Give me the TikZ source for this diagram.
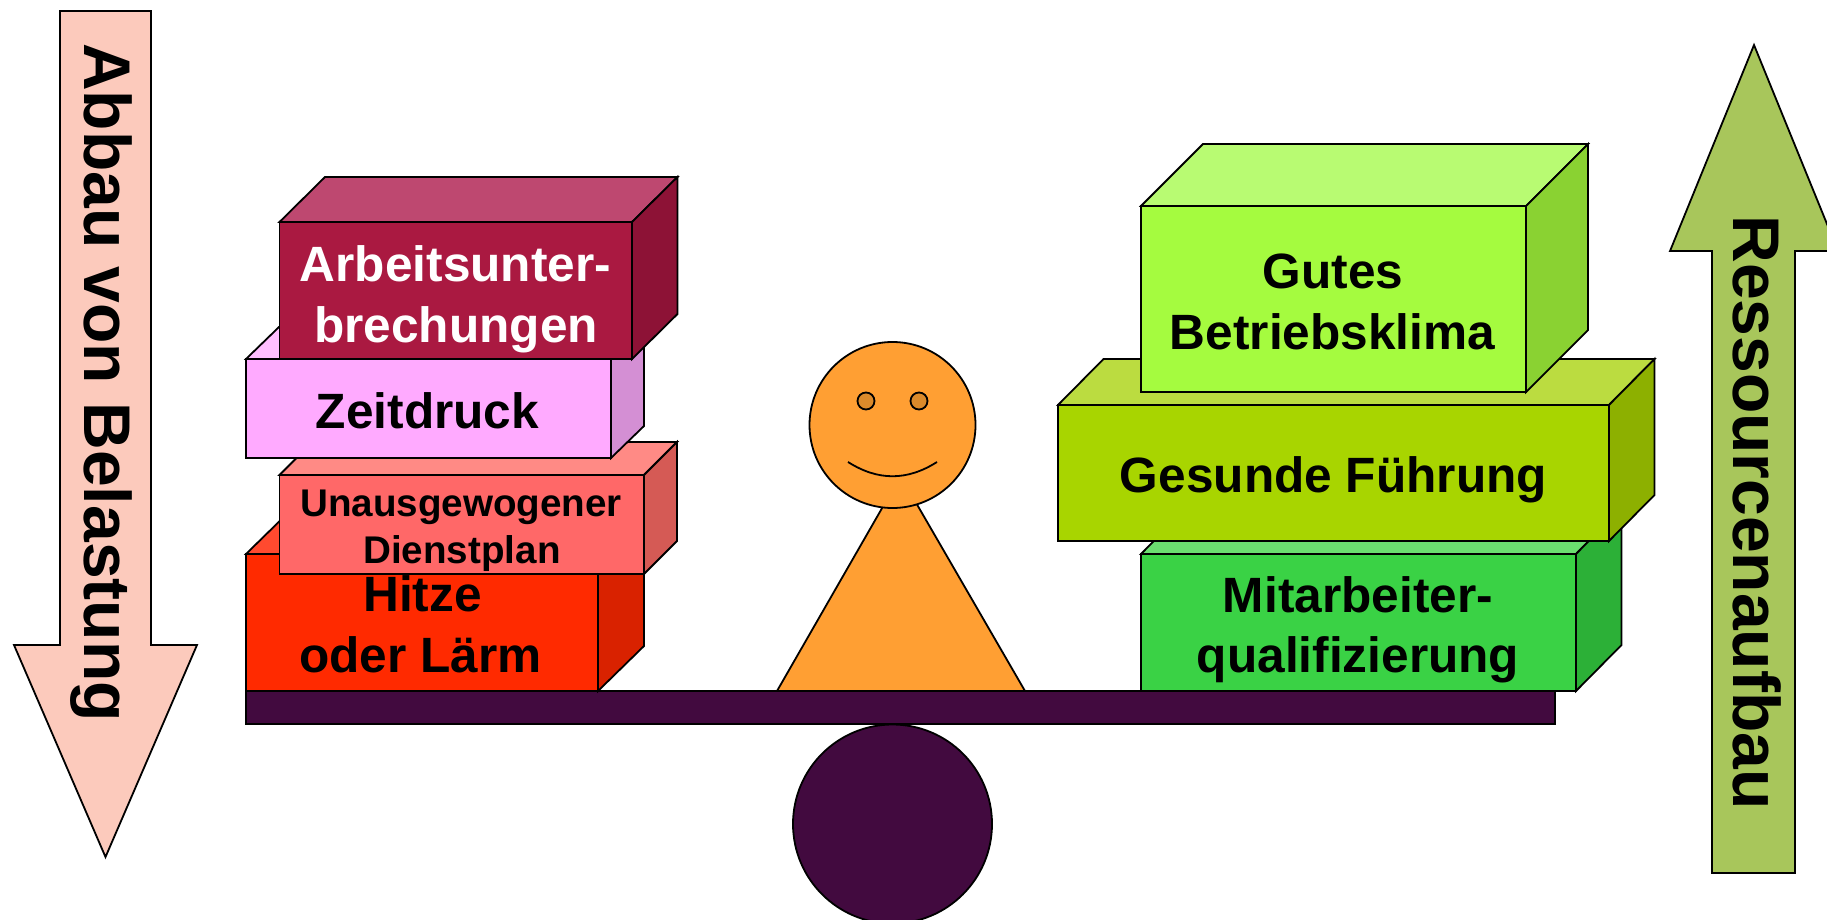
\documentclass[tikz,border=0pt]{standalone}
\usepackage{fontspec}
\setmainfont{Liberation Sans}[BoldFont={Liberation Sans Bold}]
\definecolor{arbF}{HTML}{AA1941}\definecolor{arbT}{HTML}{BE4870}\definecolor{arbS}{HTML}{8D1236}
\definecolor{zeiF}{HTML}{FFAAFF}\definecolor{zeiT}{HTML}{FFBFFF}\definecolor{zeiS}{HTML}{D48FD4}
\definecolor{unaF}{HTML}{FF6868}\definecolor{unaT}{HTML}{FF8A85}\definecolor{unaS}{HTML}{D55A55}
\definecolor{hitF}{HTML}{FF2A00}\definecolor{hitT}{HTML}{FF4A2F}\definecolor{hitS}{HTML}{D92200}
\definecolor{gutF}{HTML}{A5FB3F}\definecolor{gutT}{HTML}{B8FB72}\definecolor{gutS}{HTML}{8AD232}
\definecolor{gesF}{HTML}{A8D500}\definecolor{gesT}{HTML}{BBDC40}\definecolor{gesS}{HTML}{8DB000}
\definecolor{mitF}{HTML}{3AD245}\definecolor{mitT}{HTML}{6BDE70}\definecolor{mitS}{HTML}{2CB037}
\definecolor{downarrow}{HTML}{FCCABC}\definecolor{uparrow}{HTML}{A8C65B}
\definecolor{figure}{HTML}{FF9F33}\definecolor{eye}{HTML}{DB8A2B}\definecolor{beam}{HTML}{420A3F}
\tikzset{
  outline/.style={draw=black,line width=1.8pt,line join=miter},
  boxlabel/.style={inner sep=0pt,anchor=base,font=\bfseries\fontsize{49.6}{60}\selectfont},
  smalllabel/.style={boxlabel,font=\bfseries\fontsize{38.6}{48}\selectfont},
  arrowlabel/.style={inner sep=0pt,anchor=base,rotate=-90,font=\bfseries\fontsize{#1}{70}\selectfont}
}
\newcommand\cuboid[7]{%
  \filldraw[outline,fill=#7T] (#1,#2) -- ++(#5,-#6) -- ++(#3-#1,0) -- (#3+#5,#2-#6) -- (#3,#2) -- cycle;
  \filldraw[outline,fill=#7S] (#3,#2) -- (#3+#5,#2-#6) -- (#3+#5,#4-#6) -- (#3,#4) -- cycle;
  \filldraw[outline,fill=#7F] (#1,#2) rectangle (#3,#4);
}
\begin{document}
\begin{tikzpicture}[x=1pt,y=-1pt]
\useasboundingbox (0,0) rectangle (1827,920);
\clip (0,0) rectangle (1827,920);
% left arrow
\filldraw[outline,fill=downarrow] (60,11) -- (151,11) -- (151,645) -- (197,645) -- (105.5,857) -- (14,645) -- (60,645) -- cycle;
\node[arrowlabel=66] (abbau) at (84,382.5) {Abbau von Belastung};
% right arrow
\filldraw[outline,fill=uparrow] (1712,873) -- (1795,873) -- (1795,251) -- (1838,251) -- (1754,45) -- (1670,251) -- (1712,251) -- cycle;
\node[arrowlabel=66] (ressourcen) at (1733,512.5) {Ressourcenaufbau};
% figure
\filldraw[outline,fill=figure] (777,691) -- (1025,691) -- (900.5,476) -- cycle;
\filldraw[outline,fill=figure] (892.5,425) circle[radius=83];
\filldraw[outline,fill=eye] (866,401) circle[radius=8.5];
\filldraw[outline,fill=eye] (919,401) circle[radius=8.5];
\draw[outline] (848,462) .. controls (878,481) and (907,481) .. (937,462);
% balance
\filldraw[outline,fill=beam] (892.5,824) circle[radius=99.5];
\filldraw[outline,fill=beam] (246,691) rectangle (1555,724);
% left stack
\cuboid{246}{554}{598}{691}{46}{45}{hit}
\node[boxlabel] (hitze) at (422.5,611.5) {Hitze};
\node[boxlabel] (laerm) at (420.5,672.5) {oder Lärm};
\cuboid{279.5}{475}{644}{574}{33}{33}{una}
\node[smalllabel] (unaus) at (461,516.5) {Unausgewogener};
\node[smalllabel] (dienst) at (462,563.5) {Dienstplan};
\cuboid{246}{359}{611}{458}{33}{32}{zei}
\node[boxlabel] (zeit) at (427.5,428.5) {Zeitdruck};
\cuboid{279.5}{222}{632}{359}{45.5}{45}{arb}
\node[boxlabel,text=white] (arbeit) at (455.5,281) {Arbeitsunter-};
\node[boxlabel,text=white] (brech) at (456,342) {brechungen};
% right stack
\cuboid{1141}{554}{1576}{691}{45.5}{46}{mit}
\node[boxlabel] (mitarb) at (1358,612.5) {Mitarbeiter-};
\node[boxlabel] (quali) at (1358,672.5) {qualifizierung};
\cuboid{1058}{405}{1609}{541}{45.5}{46}{ges}
\node[boxlabel] (fuehrung) at (1333.5,492.5) {Gesunde Führung};
\cuboid{1141}{206}{1526}{392}{62}{62}{gut}
\node[boxlabel] (gutes) at (1333,288.5) {Gutes};
\node[boxlabel] (klima) at (1332.5,349.5) {Betriebsklima};
\end{tikzpicture}
\end{document}
